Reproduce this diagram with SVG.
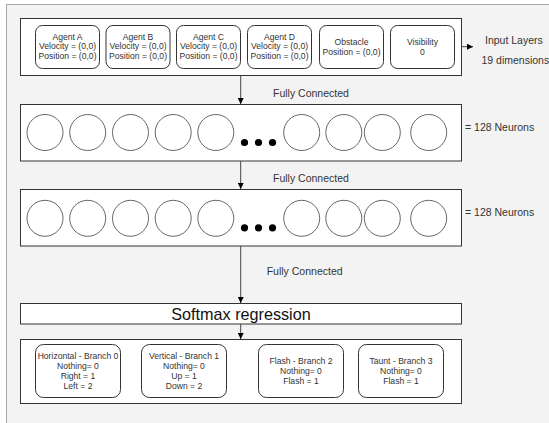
<svg xmlns="http://www.w3.org/2000/svg" width="549" height="423" viewBox="0 0 549 423">
<defs>
<style>
.panel{fill:#f3f3f3;stroke:#a6a6a6;stroke-width:1}
.box{fill:#ffffff;stroke:#333333;stroke-width:1}
.rbox{fill:#ffffff;stroke:#333333;stroke-width:1}
.neuron{fill:#ffffff;stroke:#666666;stroke-width:1}
.dot{fill:#000000}
.conn{stroke:#444444;stroke-width:1;fill:none}
text{font-family:"Liberation Sans",Arial,sans-serif;fill:#333333}
.t8{font-size:8.6px;text-anchor:middle}
.t10{font-size:10.5px}
.big{font-size:16.2px;text-anchor:middle;fill:#111111}
</style>
<marker id="arr" viewBox="0 0 8 8" refX="8" refY="4" markerWidth="6" markerHeight="6" markerUnits="userSpaceOnUse" orient="auto">
<path d="M0,0 L8,4 L0,8 Z" fill="#000000"/>
</marker>
</defs>
<rect x="0" y="0" width="549" height="423" fill="#ffffff"/>
<rect class="panel" x="6.5" y="4.5" width="560" height="440"/>

<g id="input-layer">
<rect class="box" x="20.5" y="18.5" width="441" height="57"/>
</g>
<g id="agent-a">
<rect class="rbox" x="35.5" y="25.5" width="64" height="43" rx="7"/>
<text class="t8" x="67.5" y="39.5">Agent A</text>
<text class="t8" x="67.5" y="49">Velocity = (0,0)</text>
<text class="t8" x="67.5" y="58.5">Position = (0,0)</text>
</g>
<g id="agent-b">
<rect class="rbox" x="106" y="25.5" width="64" height="43" rx="7"/>
<text class="t8" x="138" y="39.5">Agent B</text>
<text class="t8" x="138" y="49">Velocity = (0,0)</text>
<text class="t8" x="138" y="58.5">Position = (0,0)</text>
</g>
<g id="agent-c">
<rect class="rbox" x="176.5" y="25.5" width="64" height="43" rx="7"/>
<text class="t8" x="208.5" y="39.5">Agent C</text>
<text class="t8" x="208.5" y="49">Velocity = (0,0)</text>
<text class="t8" x="208.5" y="58.5">Position = (0,0)</text>
</g>
<g id="agent-d">
<rect class="rbox" x="247.5" y="25.5" width="64" height="43" rx="7"/>
<text class="t8" x="279.5" y="39.5">Agent D</text>
<text class="t8" x="279.5" y="49">Velocity = (0,0)</text>
<text class="t8" x="279.5" y="58.5">Position = (0,0)</text>
</g>
<g id="obstacle">
<rect class="rbox" x="319.5" y="25.5" width="64" height="43" rx="7"/>
<text class="t8" x="351.5" y="44.5">Obstacle</text>
<text class="t8" x="351.5" y="54.5">Position = (0,0)</text>
</g>
<g id="visibility">
<rect class="rbox" x="390.5" y="25.5" width="64" height="43" rx="7"/>
<text class="t8" x="422.5" y="44.5">Visibility</text>
<text class="t8" x="422.5" y="54.5">0</text>
</g>
<g id="input-label">
<text class="t10" x="485" y="43.7">Input Layers</text>
<text class="t10" x="481.5" y="63.7">19 dimensions</text>
</g>

<g id="hidden-1">
<rect class="box" x="20.5" y="104.5" width="441" height="56.5"/>
<circle class="neuron" cx="45" cy="132.5" r="18"/>
<circle class="neuron" cx="87.7" cy="132.5" r="18"/>
<circle class="neuron" cx="130.5" cy="132.5" r="18"/>
<circle class="neuron" cx="173.2" cy="132.5" r="18"/>
<circle class="neuron" cx="215.8" cy="132.5" r="18"/>
<circle class="dot" cx="244.5" cy="142.5" r="3.6"/>
<circle class="dot" cx="258.5" cy="142.5" r="3.6"/>
<circle class="dot" cx="272.5" cy="142.5" r="3.6"/>
<circle class="neuron" cx="301.7" cy="132.5" r="18"/>
<circle class="neuron" cx="343.8" cy="132.5" r="18"/>
<circle class="neuron" cx="382.3" cy="132.5" r="18"/>
<circle class="neuron" cx="428.7" cy="132.5" r="18"/>
<text class="t10" x="465" y="130.5">= 128 Neurons</text>
</g>

<g id="hidden-2">
<rect class="box" x="20.5" y="189.5" width="441" height="56.5"/>
<circle class="neuron" cx="45" cy="218.3" r="18"/>
<circle class="neuron" cx="87.7" cy="218.3" r="18"/>
<circle class="neuron" cx="130.5" cy="218.3" r="18"/>
<circle class="neuron" cx="173.2" cy="218.3" r="18"/>
<circle class="neuron" cx="215.8" cy="218.3" r="18"/>
<circle class="dot" cx="244.5" cy="227.8" r="3.6"/>
<circle class="dot" cx="258.5" cy="227.8" r="3.6"/>
<circle class="dot" cx="272.5" cy="227.8" r="3.6"/>
<circle class="neuron" cx="301.7" cy="218.3" r="18"/>
<circle class="neuron" cx="343.8" cy="218.3" r="18"/>
<circle class="neuron" cx="382.3" cy="218.3" r="18"/>
<circle class="neuron" cx="428.7" cy="218.3" r="18"/>
<text class="t10" x="465" y="215.5">= 128 Neurons</text>
</g>

<g id="softmax">
<rect class="box" x="20.5" y="303.5" width="441" height="20.5"/>
<text class="big" x="241" y="319.5">Softmax regression</text>
</g>

<g id="output-layer">
<rect class="box" x="20.5" y="339.5" width="441" height="64"/>
</g>
<g id="branch-0">
<rect class="rbox" x="35.5" y="344.5" width="85" height="53" rx="8"/>
<text class="t8" x="78" y="359">Horizontal - Branch 0</text>
<text class="t8" x="78" y="369">Nothing= 0</text>
<text class="t8" x="78" y="379">Right = 1</text>
<text class="t8" x="78" y="389">Left = 2</text>
</g>
<g id="branch-1">
<rect class="rbox" x="141.5" y="344.5" width="85" height="53" rx="8"/>
<text class="t8" x="184" y="359">Vertical - Branch 1</text>
<text class="t8" x="184" y="369">Nothing= 0</text>
<text class="t8" x="184" y="379">Up = 1</text>
<text class="t8" x="184" y="389">Down = 2</text>
</g>
<g id="branch-2">
<rect class="rbox" x="258.5" y="344.5" width="85" height="53" rx="8"/>
<text class="t8" x="301" y="363.7">Flash - Branch 2</text>
<text class="t8" x="301" y="373.7">Nothing= 0</text>
<text class="t8" x="301" y="383.7">Flash = 1</text>
</g>
<g id="branch-3">
<rect class="rbox" x="358.5" y="344.5" width="85" height="53" rx="8"/>
<text class="t8" x="401" y="363.7">Taunt - Branch 3</text>
<text class="t8" x="401" y="373.7">Nothing= 0</text>
<text class="t8" x="401" y="383.7">Flash = 1</text>
</g>

<g id="connectors">
<line class="conn" x1="461.5" y1="46.7" x2="473" y2="46.7" marker-end="url(#arr)"/>
<line class="conn" x1="240.7" y1="75.5" x2="240.7" y2="104" marker-end="url(#arr)"/>
<line class="conn" x1="240.7" y1="161" x2="240.7" y2="189" marker-end="url(#arr)"/>
<line class="conn" x1="240.7" y1="246" x2="240.7" y2="303" marker-end="url(#arr)"/>
<line class="conn" x1="240.7" y1="324" x2="240.7" y2="339" marker-end="url(#arr)"/>
<text class="t10" x="273" y="96.5">Fully Connected</text>
<text class="t10" x="273" y="182">Fully Connected</text>
<text class="t10" x="266.7" y="274.5">Fully Connected</text>
</g>
</svg>
